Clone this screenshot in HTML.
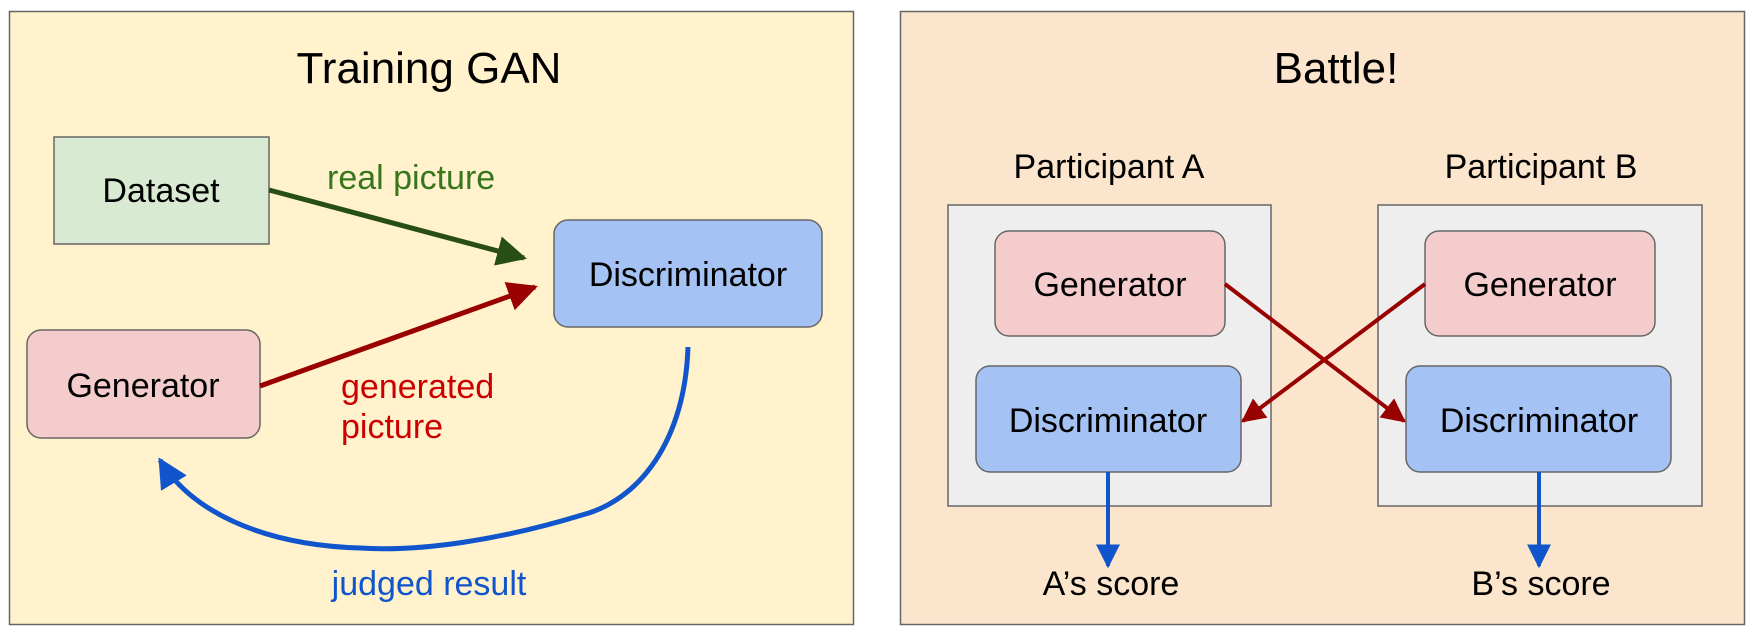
<!DOCTYPE html>
<html><head><meta charset="utf-8"><style>
html,body{margin:0;padding:0;background:#fff;}
svg{display:block;font-family:"Liberation Sans",sans-serif;}
</style></head><body>
<svg width="1756" height="636" viewBox="0 0 1756 636" xmlns="http://www.w3.org/2000/svg">
<defs>
<marker id="g" viewBox="0 0 10 10" refX="9" refY="5" markerWidth="6" markerHeight="6" orient="auto" markerUnits="strokeWidth"><path d="M0,0L10,5L0,10z" fill="#274e13"/></marker>
<marker id="r" viewBox="0 0 10 10" refX="9" refY="5" markerWidth="6" markerHeight="6" orient="auto" markerUnits="strokeWidth"><path d="M0,0L10,5L0,10z" fill="#990000"/></marker>
<marker id="b" viewBox="0 0 10 10" refX="9" refY="5" markerWidth="6" markerHeight="6" orient="auto" markerUnits="strokeWidth"><path d="M0,0L10,5L0,10z" fill="#1155cc"/></marker>
</defs>
<rect x="9.5" y="11.5" width="844" height="613" fill="#fff2cc" stroke="#666" stroke-width="1.5"/>
<rect x="900.5" y="11.5" width="844" height="613" fill="#fce5cd" stroke="#666" stroke-width="1.5"/>
<g font-size="44" text-anchor="middle" fill="#000">
<text x="429" y="83">Training GAN</text>
<text x="1336" y="83">Battle!</text>
</g>
<rect x="54" y="137" width="215" height="107" fill="#d9ead3" stroke="#666" stroke-width="1.5"/>
<rect x="554" y="220" width="268" height="107" rx="14" fill="#a4c2f4" stroke="#666" stroke-width="1.5"/>
<rect x="27" y="330" width="233" height="108" rx="14" fill="#f4cccc" stroke="#666" stroke-width="1.5"/>
<g font-size="34" text-anchor="middle">
<text x="161" y="202">Dataset</text>
<text x="688" y="286">Discriminator</text>
<text x="143" y="397">Generator</text>
</g>
<line x1="269" y1="190" x2="524" y2="258" stroke="#274e13" stroke-width="5" marker-end="url(#g)"/>
<line x1="260" y1="386" x2="535" y2="287" stroke="#990000" stroke-width="5" marker-end="url(#r)"/>
<path d="M688,347 C685,440 640,500 582,515 C500,540 420,552 360,548 C260,545 190,510 160,460" fill="none" stroke="#1155cc" stroke-width="5" marker-end="url(#b)"/>
<g font-size="34">
<text x="327" y="189" fill="#38761d">real picture</text>
<text x="341" y="398" fill="#cc0000">generated</text>
<text x="341" y="438" fill="#cc0000">picture</text>
<text x="429" y="595" fill="#1155cc" text-anchor="middle">judged result</text>
</g>
<g font-size="34" text-anchor="middle">
<text x="1109" y="178">Participant A</text>
<text x="1541" y="178">Participant B</text>
</g>
<rect x="948" y="205" width="323" height="301" fill="#eeeeee" stroke="#666" stroke-width="1.5"/>
<rect x="1378" y="205" width="324" height="301" fill="#eeeeee" stroke="#666" stroke-width="1.5"/>
<rect x="995" y="231" width="230" height="105" rx="14" fill="#f4cccc" stroke="#666" stroke-width="1.5"/>
<rect x="1425" y="231" width="230" height="105" rx="14" fill="#f4cccc" stroke="#666" stroke-width="1.5"/>
<rect x="976" y="366" width="265" height="106" rx="14" fill="#a4c2f4" stroke="#666" stroke-width="1.5"/>
<rect x="1406" y="366" width="265" height="106" rx="14" fill="#a4c2f4" stroke="#666" stroke-width="1.5"/>
<g font-size="34" text-anchor="middle">
<text x="1110" y="296">Generator</text>
<text x="1540" y="296">Generator</text>
<text x="1108" y="432">Discriminator</text>
<text x="1539" y="432">Discriminator</text>
</g>
<line x1="1225" y1="284" x2="1404" y2="421" stroke="#990000" stroke-width="4" marker-end="url(#r)"/>
<line x1="1425" y1="284" x2="1243" y2="421" stroke="#990000" stroke-width="4" marker-end="url(#r)"/>
<line x1="1108" y1="472" x2="1108" y2="566" stroke="#1155cc" stroke-width="4" marker-end="url(#b)"/>
<line x1="1539" y1="472" x2="1539" y2="566" stroke="#1155cc" stroke-width="4" marker-end="url(#b)"/>
<g font-size="34" text-anchor="middle">
<text x="1111" y="595">A’s score</text>
<text x="1541" y="595">B’s score</text>
</g>
</svg>
</body></html>
